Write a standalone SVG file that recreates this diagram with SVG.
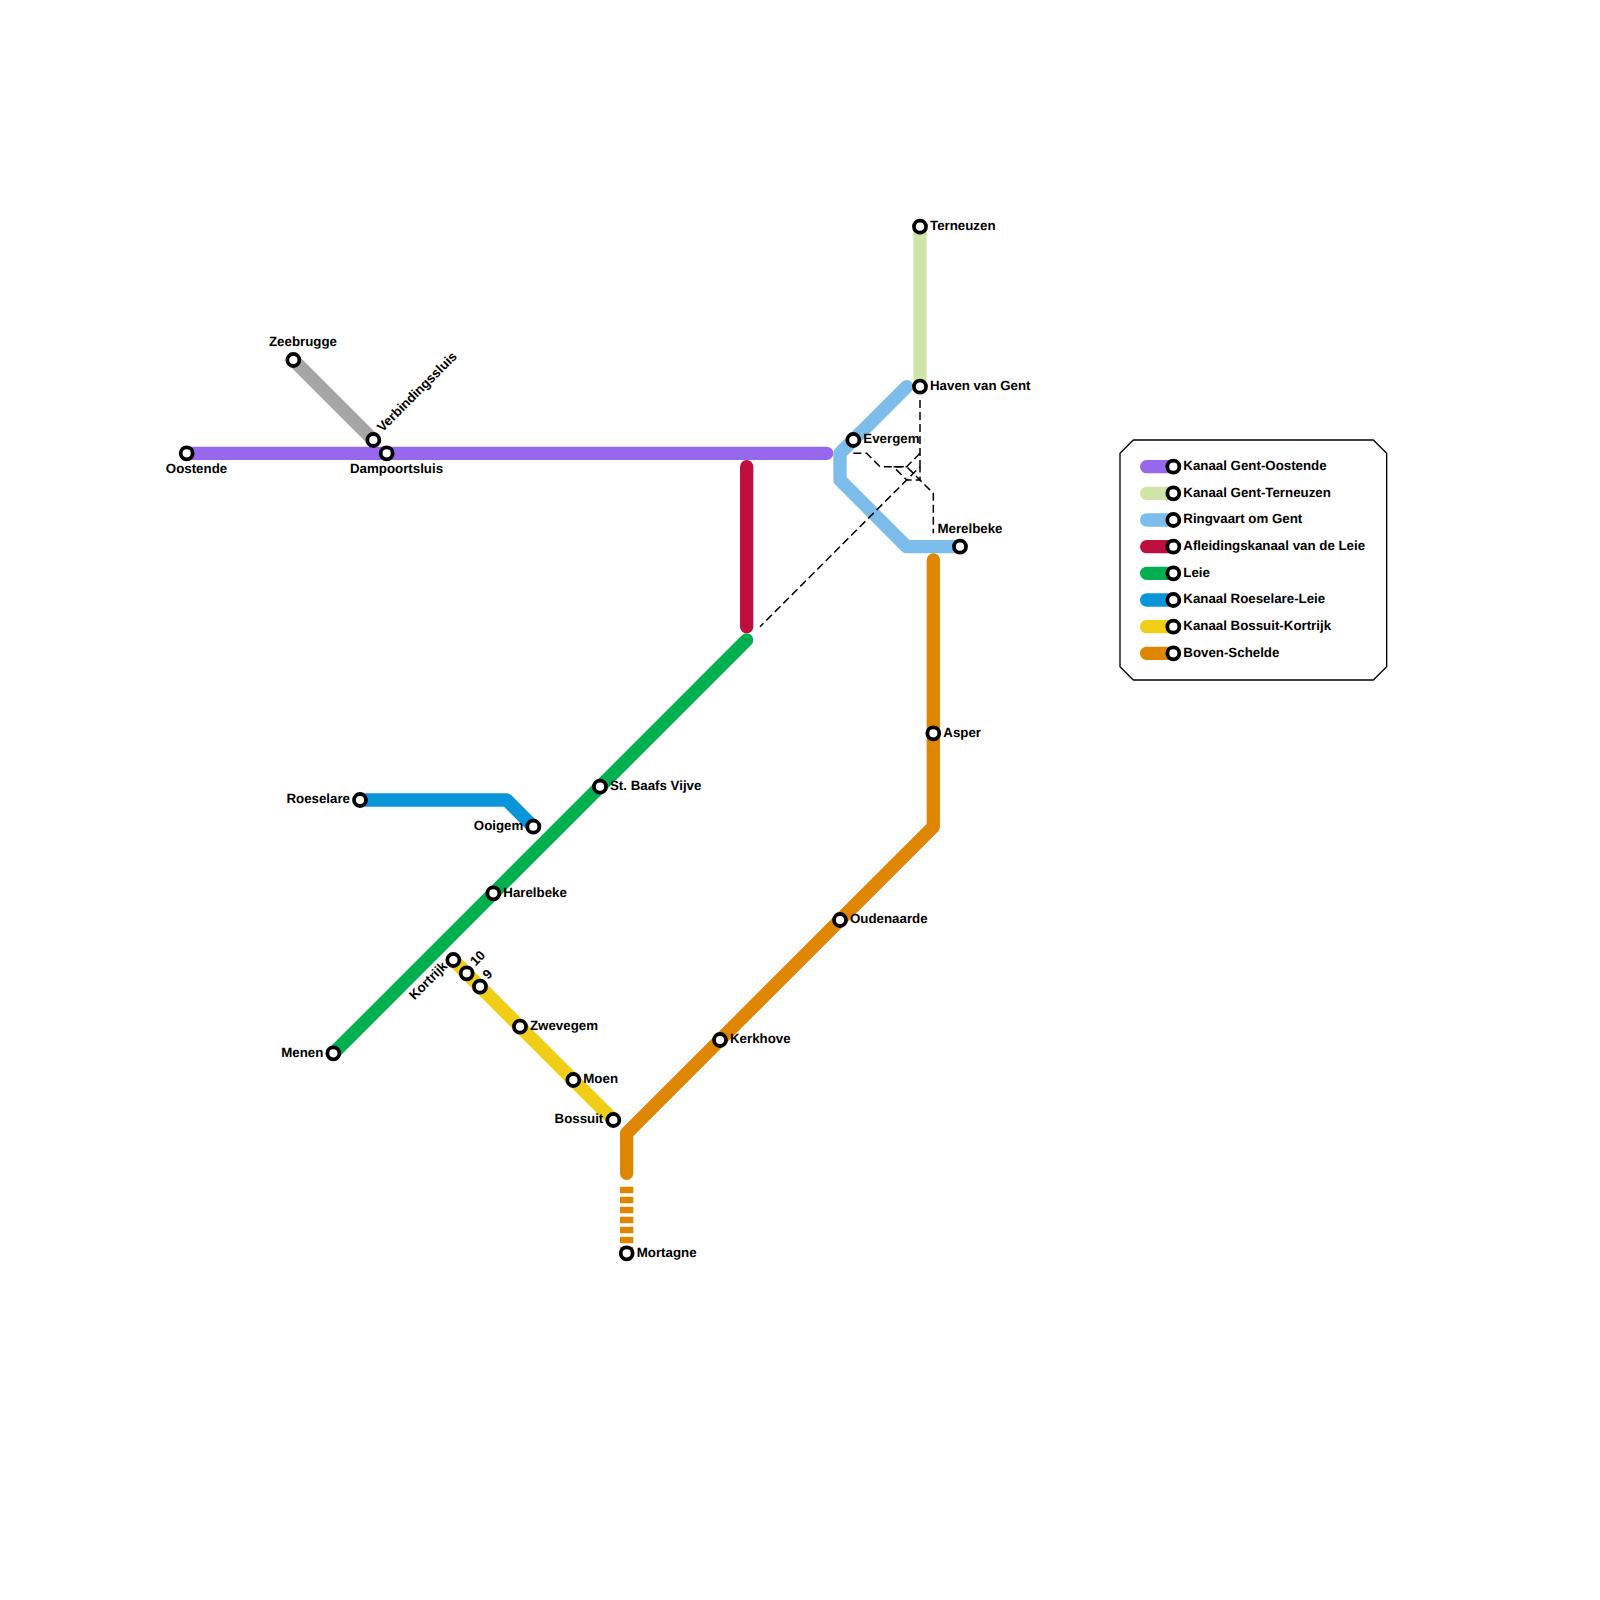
<svg xmlns="http://www.w3.org/2000/svg" width="1600" height="1600" viewBox="0 0 1600 1600">
<style>
.l{fill:none;stroke-width:13.33;stroke-linecap:round;stroke-linejoin:round}
.d{fill:none;stroke:#000;stroke-width:1.5;stroke-dasharray:8 4}
.s{fill:#fff;stroke:#000;stroke-width:3.8}
text{font-family:"Liberation Sans",Arial,sans-serif;font-weight:bold;font-size:13.3px;fill:#000;text-rendering:geometricPrecision}
.e{text-anchor:end}.m{text-anchor:middle}
</style>
<rect width="1600" height="1600" fill="#fff"/>
<g id="connectors">
<path class="l" stroke="#a5a5a5" d="M293.33 360L373.33 440"/>
<path class="l" stroke="#9768ec" d="M186.67 453.33H826.67"/>
<path class="l" stroke="#d0e4a7" style="stroke-linecap:butt" d="M920 226.67V386.67"/>
<path class="l" stroke="#7cbdeb" d="M906.67 386.67L840 453.33V480L906.67 546.67H960"/>
<path class="l" stroke="#bf0f3e" d="M746.67 466.67V626.67"/>
<path class="l" stroke="#00b050" d="M746.67 640L333.33 1053.33"/>
<path class="l" stroke="#0a95d8" d="M360 800H506.67L533.33 826.67"/>
<path class="l" stroke="#f0ce15" d="M453.33 960L613.33 1120"/>
<path class="l" stroke="#df8600" d="M933.33 560V826.67L626.67 1133.33V1173.33"/>
<path class="l" stroke="#df8600" style="stroke-linecap:butt;stroke-dasharray:6.67 3.33" d="M626.67 1186.67V1253.33"/>
<path class="d" d="M853.33 453.33H866.67L880 466.67H906.67L933.33 493.33V533.33"/>
<path class="d" d="M920 400V466.67L760 626.67"/>
<path class="d" d="M920 453.33L906.67 466.67H893.33L906.67 480H920V466.67"/>
</g>
<g id="legend">
<path fill="#fff" stroke="#000" stroke-width="1.33" d="M1133.33 440H1373.33L1386.67 453.33V666.67L1373.33 680H1133.33L1120 666.67V453.33Z"/>
<path class="l" stroke="#9768ec" d="M1146.67 466.67H1173.33"/>
<path class="l" stroke="#d0e4a7" d="M1146.67 493.33H1173.33"/>
<path class="l" stroke="#7cbdeb" d="M1146.67 520H1173.33"/>
<path class="l" stroke="#bf0f3e" d="M1146.67 546.67H1173.33"/>
<path class="l" stroke="#00b050" d="M1146.67 573.33H1173.33"/>
<path class="l" stroke="#0a95d8" d="M1146.67 600H1173.33"/>
<path class="l" stroke="#f0ce15" d="M1146.67 626.67H1173.33"/>
<path class="l" stroke="#df8600" d="M1146.67 653.33H1173.33"/>
<circle class="s" cx="1173.33" cy="466.67" r="6"/><circle class="s" cx="1173.33" cy="493.33" r="6"/><circle class="s" cx="1173.33" cy="520" r="6"/><circle class="s" cx="1173.33" cy="546.67" r="6"/><circle class="s" cx="1173.33" cy="573.33" r="6"/><circle class="s" cx="1173.33" cy="600" r="6"/><circle class="s" cx="1173.33" cy="626.67" r="6"/><circle class="s" cx="1173.33" cy="653.33" r="6"/>
<text x="1183.3" y="470">Kanaal Gent-Oostende</text>
<text x="1183.3" y="496.7">Kanaal Gent-Terneuzen</text>
<text x="1183.3" y="523.3">Ringvaart om Gent</text>
<text x="1183.3" y="550">Afleidingskanaal van de Leie</text>
<text x="1183.3" y="576.7">Leie</text>
<text x="1183.3" y="603.3">Kanaal Roeselare-Leie</text>
<text x="1183.3" y="630">Kanaal Bossuit-Kortrijk</text>
<text x="1183.3" y="656.7">Boven-Schelde</text>
</g>
<g id="st-oostende"><circle class="s" cx="186.67" cy="453.33" r="6"/><text class="m" x="196.5" y="473.3">Oostende</text></g>
<g id="st-zeebrugge"><circle class="s" cx="293.33" cy="360" r="6"/><text class="m" x="303" y="346">Zeebrugge</text></g>
<g id="st-verbindingssluis"><circle class="s" cx="373.33" cy="440" r="6"/><text transform="translate(382.5 432.5) rotate(-45)">Verbindingssluis</text></g>
<g id="st-dampoortsluis"><circle class="s" cx="386.67" cy="453.33" r="6"/><text class="m" x="396.5" y="473.3">Dampoortsluis</text></g>
<g id="st-terneuzen"><circle class="s" cx="920" cy="226.67" r="6"/><text x="930" y="230">Terneuzen</text></g>
<g id="st-haven"><circle class="s" cx="920" cy="386.67" r="6"/><text x="930" y="390">Haven van Gent</text></g>
<g id="st-evergem"><circle class="s" cx="853.33" cy="440" r="6"/><text x="863.3" y="443.3">Evergem</text></g>
<g id="st-merelbeke"><circle class="s" cx="960" cy="546.67" r="6"/><text class="m" x="970" y="533.3">Merelbeke</text></g>
<g id="st-asper"><circle class="s" cx="933.33" cy="733.33" r="6"/><text x="943.3" y="736.7">Asper</text></g>
<g id="st-oudenaarde"><circle class="s" cx="840" cy="920" r="6"/><text x="850" y="923.3">Oudenaarde</text></g>
<g id="st-kerkhove"><circle class="s" cx="720" cy="1040" r="6"/><text x="730" y="1043.3">Kerkhove</text></g>
<g id="st-mortagne"><circle class="s" cx="626.67" cy="1253.33" r="6"/><text x="636.7" y="1256.7">Mortagne</text></g>
<g id="st-bossuit"><circle class="s" cx="613.33" cy="1120" r="6"/><text class="e" x="603.3" y="1123.3">Bossuit</text></g>
<g id="st-moen"><circle class="s" cx="573.33" cy="1080" r="6"/><text x="583.3" y="1083.3">Moen</text></g>
<g id="st-zwevegem"><circle class="s" cx="520" cy="1026.67" r="6"/><text x="530" y="1030">Zwevegem</text></g>
<g id="st-9"><circle class="s" cx="480" cy="986.67" r="6"/><text transform="translate(488 980) rotate(-45)">9</text></g>
<g id="st-10"><circle class="s" cx="466.67" cy="973.33" r="6"/><text transform="translate(475.5 966.5) rotate(-45)">10</text></g>
<g id="st-kortrijk"><circle class="s" cx="453.33" cy="960" r="6"/><text class="e" transform="translate(448 967) rotate(-45)">Kortrijk</text></g>
<g id="st-menen"><circle class="s" cx="333.33" cy="1053.33" r="6"/><text class="e" x="323.3" y="1056.7">Menen</text></g>
<g id="st-harelbeke"><circle class="s" cx="493.33" cy="893.33" r="6"/><text x="503.3" y="896.7">Harelbeke</text></g>
<g id="st-ooigem"><circle class="s" cx="533.33" cy="826.67" r="6"/><text class="e" x="523.3" y="830">Ooigem</text></g>
<g id="st-roeselare"><circle class="s" cx="360" cy="800" r="6"/><text class="e" x="350" y="803.3">Roeselare</text></g>
<g id="st-baafs"><circle class="s" cx="600" cy="786.67" r="6"/><text x="610" y="790">St. Baafs Vijve</text></g>
</svg>
